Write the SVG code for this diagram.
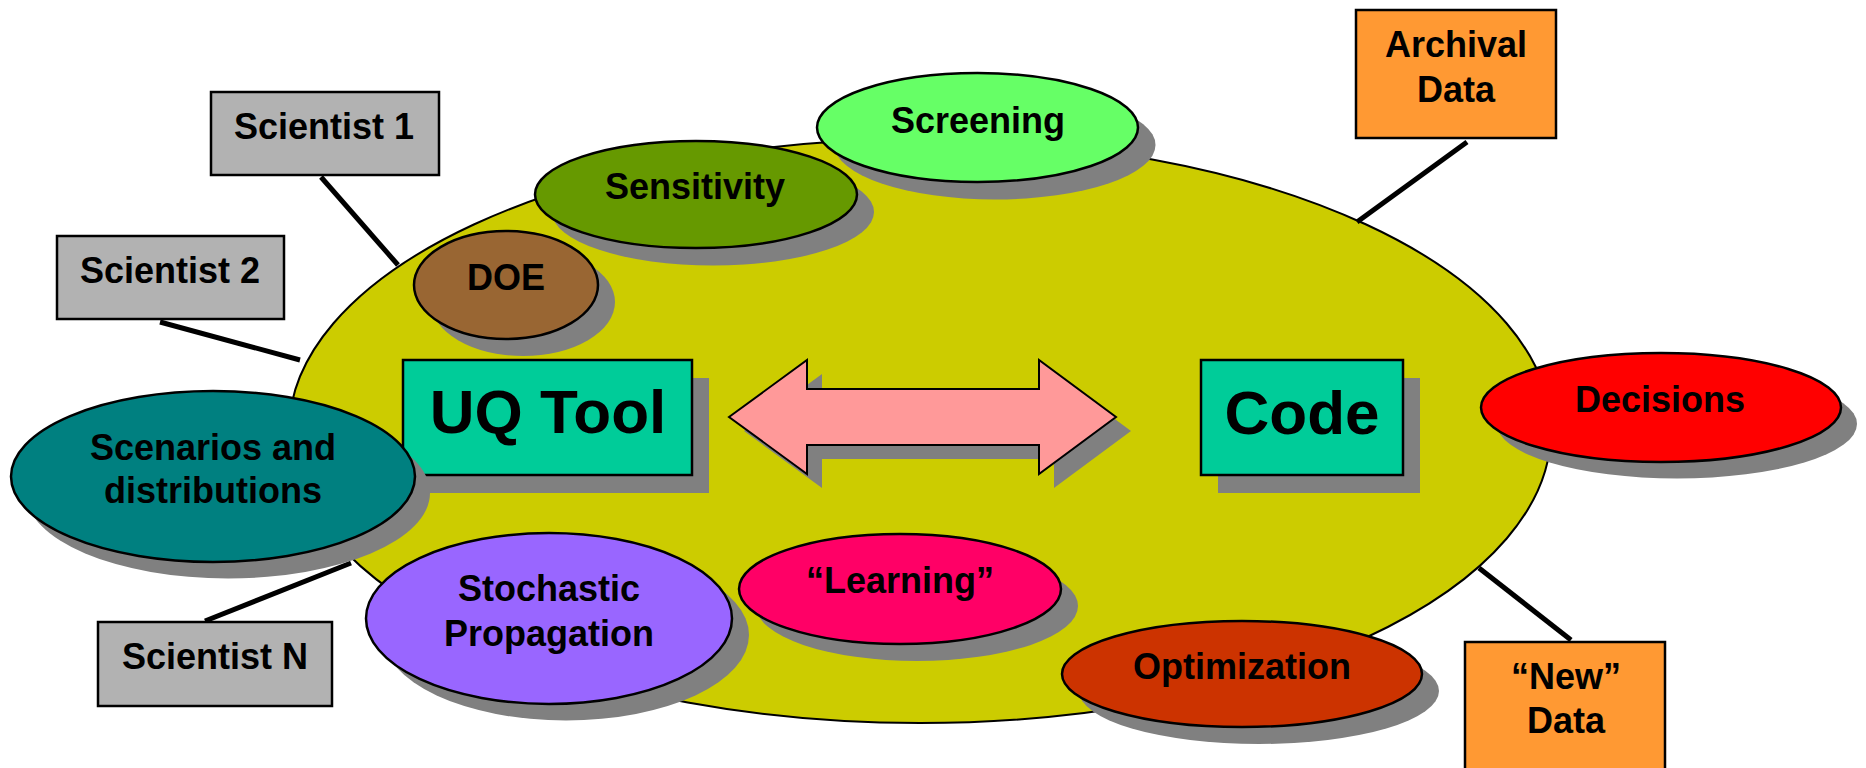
<svg xmlns="http://www.w3.org/2000/svg" width="1866" height="768" viewBox="0 0 1866 768">
<style>
.t{font-family:"Liberation Sans",Arial,sans-serif;font-weight:bold;fill:#000;text-anchor:middle}
.s{font-size:36px}
.b{font-size:62px}
.sh{fill:#808080}
.o{stroke:#000;stroke-width:2.5}
.bx{stroke:#000;stroke-width:2.5}
.cn line{stroke:#000;stroke-width:5}
</style>
<rect width="1866" height="768" fill="#fff"/>
<g id="cycle"><ellipse cx="920" cy="431" rx="631" ry="292" fill="#CCCC00" stroke="#000" stroke-width="2"/></g>
<g id="connectors" class="cn">
<line x1="321" y1="177" x2="398" y2="265"/>
<line x1="160" y1="322" x2="300" y2="360"/>
<line x1="205" y1="621" x2="351" y2="563"/>
<line x1="1467" y1="142" x2="1357" y2="222"/>
<line x1="1479" y1="568" x2="1571" y2="640"/>
</g>
<g id="screening"><ellipse class="sh" cx="995" cy="145" rx="160.5" ry="54.5"/><ellipse class="o" cx="977.5" cy="127.5" rx="160.5" ry="54.5" fill="#66FF66"/><text class="t s" x="978" y="133">Screening</text></g>
<g id="sensitivity"><ellipse class="sh" cx="713" cy="212" rx="161" ry="53.5"/><ellipse class="o" cx="696" cy="194.5" rx="161" ry="53.5" fill="#669900"/><text class="t s" x="695" y="199">Sensitivity</text></g>
<g id="doe"><ellipse class="sh" cx="523" cy="302" rx="92" ry="54"/><ellipse class="o" cx="506" cy="285" rx="92" ry="54" fill="#996633"/><text class="t s" x="506" y="290">DOE</text></g>
<g id="uqtool"><rect class="sh" x="420" y="378" width="289" height="115"/><rect class="bx" x="403" y="360" width="289" height="115" fill="#00CC99"/><text class="t b" x="548" y="433">UQ Tool</text></g>
<g id="arrow"><polygon class="sh" transform="translate(15,14)" points="729,417 807,360 807,389 1039,389 1039,360 1116,417 1039,474 1039,445 807,445 807,474"/><polygon points="729,417 807,360 807,389 1039,389 1039,360 1116,417 1039,474 1039,445 807,445 807,474" fill="#FF9999" stroke="#000" stroke-width="2"/></g>
<g id="code"><rect class="sh" x="1218" y="378" width="202" height="115"/><rect class="bx" x="1201" y="360" width="202" height="115" fill="#00CC99"/><text class="t b" x="1302" y="434">Code</text></g>
<g id="decisions"><ellipse class="sh" cx="1677" cy="424" rx="180" ry="54.5"/><ellipse class="o" cx="1661" cy="407.5" rx="180" ry="54.5" fill="#FF0000"/><text class="t s" x="1660" y="412">Decisions</text></g>
<g id="scenarios"><ellipse class="sh" cx="228" cy="493" rx="202" ry="85.5"/><ellipse class="o" cx="213" cy="476.5" rx="202" ry="85.5" fill="#008080"/><text class="t s" x="213" y="460">Scenarios and</text><text class="t s" x="213" y="503">distributions</text></g>
<g id="stochastic"><ellipse class="sh" cx="566" cy="635" rx="183" ry="85.5"/><ellipse class="o" cx="549" cy="618.5" rx="183" ry="85.5" fill="#9966FF"/><text class="t s" x="549" y="601">Stochastic</text><text class="t s" x="549" y="646">Propagation</text></g>
<g id="learning"><ellipse class="sh" cx="917" cy="606" rx="161" ry="55"/><ellipse class="o" cx="900" cy="589" rx="161" ry="55" fill="#FF0066"/><text class="t s" x="900" y="593">“Learning”</text></g>
<g id="optimization"><ellipse class="sh" cx="1259" cy="691" rx="180" ry="53"/><ellipse class="o" cx="1242" cy="674" rx="180" ry="53" fill="#CC3300"/><text class="t s" x="1242" y="679">Optimization</text></g>
<g id="scientist1"><rect class="bx" x="211" y="92" width="228" height="83" fill="#B2B2B2"/><text class="t s" x="324" y="139">Scientist 1</text></g>
<g id="scientist2"><rect class="bx" x="57" y="236" width="227" height="83" fill="#B2B2B2"/><text class="t s" x="170" y="283">Scientist 2</text></g>
<g id="scientistN"><rect class="bx" x="98" y="622" width="234" height="84" fill="#B2B2B2"/><text class="t s" x="215" y="669">Scientist N</text></g>
<g id="archival"><rect class="bx" x="1356" y="10" width="200" height="128" fill="#FF9933"/><text class="t s" x="1456" y="57">Archival</text><text class="t s" x="1456" y="102">Data</text></g>
<g id="newdata"><rect class="bx" x="1465" y="642" width="200" height="140" fill="#FF9933"/><text class="t s" x="1566" y="689">“New”</text><text class="t s" x="1566" y="733">Data</text></g>
</svg>
